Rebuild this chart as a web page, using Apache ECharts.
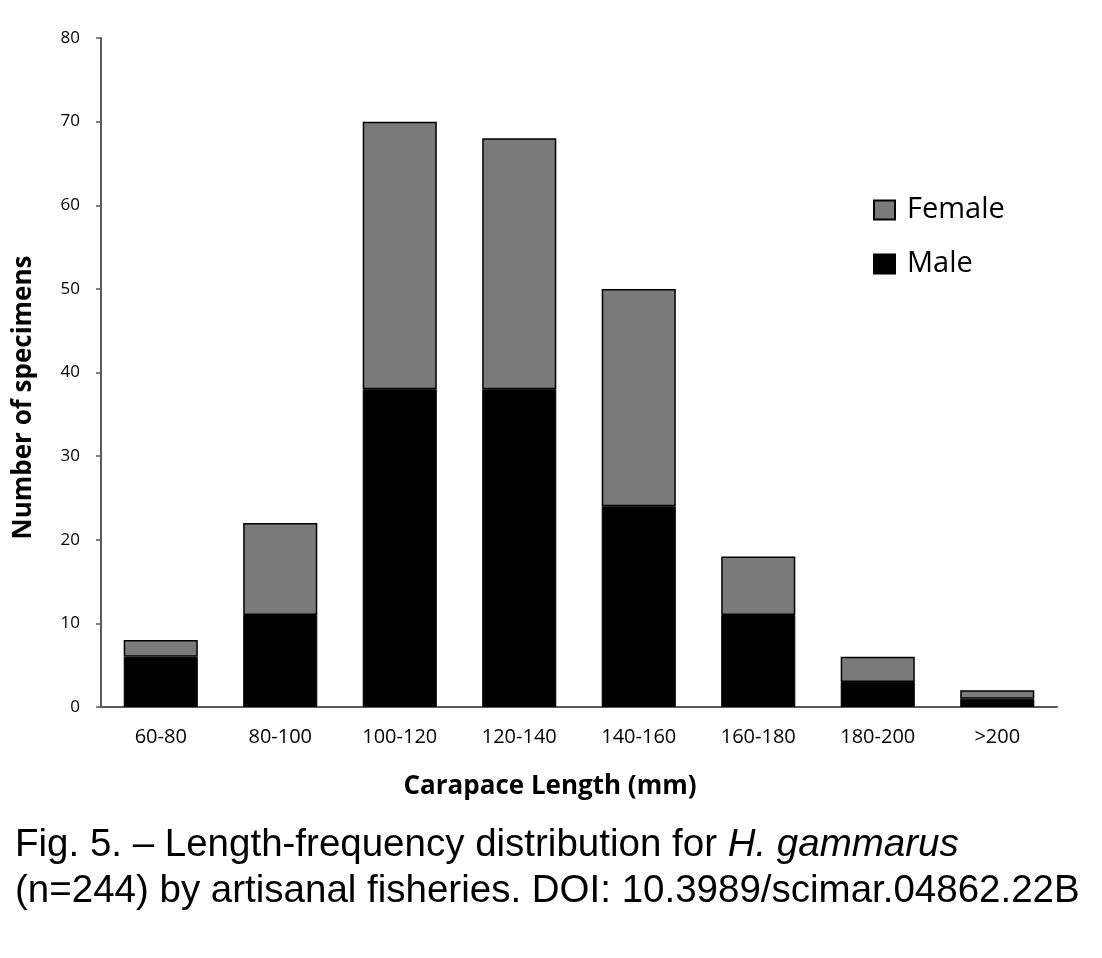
<!DOCTYPE html>
<html lang="en">
<head>
  <meta charset="utf-8">
  <title>Length-frequency distribution</title>
  <script src="https://cdn.jsdelivr.net/npm/echarts@6/dist/echarts.min.js"></script>
  <style>
      html, body, #chart {
          width: 100%; height: 100%; margin: 0; padding: 0; overflow: hidden; background: #fff;
      }
  </style>
</head>
<body>
  <div id="chart"></div>
  <script>
    // carapace length classes (mm)
    var categories = ['60-80', '80-100', '100-120', '120-140', '140-160', '160-180', '180-200', '>200'];
    // counts per class, male at the bottom, female stacked on top
    var maleCounts = [6, 11, 38, 38, 24, 11, 3, 1];
    var femaleCounts = [2, 11, 32, 30, 26, 7, 3, 1];
    var yTicks = { min: 0, max: 80, interval: 10 };

    var labelFont = '"Open Sans", Lato, sans-serif';
    var chart = echarts.init(document.getElementById('chart'));

    var option = {
        animation: false,
        backgroundColor: '#fff',
        title: {
            left: 10,
            top: 817,
            text: 'Fig. 5. – Length-frequency distribution for {i|H. gammarus}\n(n=244) by artisanal fisheries. DOI: 10.3989/scimar.04862.22B',
            textStyle: {
                fontFamily: '"Liberation Sans", Arial, sans-serif',
                fontWeight: 'normal',
                fontSize: 38.5,
                lineHeight: 46,
                color: '#000',
                rich: {
                    i: {
                        fontFamily: '"Liberation Sans", Arial, sans-serif',
                        fontStyle: 'italic',
                        fontSize: 38.5,
                        lineHeight: 46,
                        color: '#000'
                    }
                }
            }
        },
        legend: {
            orient: 'vertical',
            left: 868,
            top: 190,
            itemWidth: 21,
            itemHeight: 19,
            itemGap: 24,
            icon: 'rect',
            data: ['Female', 'Male'],
            textStyle: { fontFamily: labelFont, fontSize: 29, lineHeight: 30, color: '#000', padding: [0, 0, 0, 7] }
        },
        grid: { left: 101, right: 45, top: 38, bottom: 251 },
        xAxis: {
            type: 'category',
            data: categories,
            name: 'Carapace Length (mm)',
            nameLocation: 'middle',
            nameGap: 67,
            nameTextStyle: { fontFamily: labelFont, fontWeight: 'bold', fontSize: 26, color: '#000', padding: [0, 58, 0, 0] },
            axisLine: { lineStyle: { color: '#5a5a5a', width: 2 } },
            axisTick: { show: false },
            axisLabel: { fontFamily: labelFont, fontSize: 20, color: '#000', margin: 20 }
        },
        yAxis: {
            type: 'value',
            min: yTicks.min,
            max: yTicks.max,
            interval: yTicks.interval,
            name: 'Number of specimens',
            nameLocation: 'middle',
            nameGap: 64,
            nameTextStyle: { fontFamily: labelFont, fontWeight: 'bold', fontSize: 26, color: '#000', padding: [0, 50, 0, 0] },
            axisLine: { show: true, lineStyle: { color: '#5a5a5a', width: 2 } },
            axisTick: { show: true, length: 5, lineStyle: { color: '#5a5a5a', width: 1.5 } },
            splitLine: { show: false },
            axisLabel: { fontFamily: labelFont, fontSize: 17, color: '#000', margin: 21 }
        },
        series: [
            {
                name: 'Male',
                type: 'bar',
                stack: 'sex',
                data: maleCounts,
                barCategoryGap: '38%',
                itemStyle: { color: '#000', borderColor: '#000', borderWidth: 1 }
            },
            {
                name: 'Female',
                type: 'bar',
                stack: 'sex',
                data: femaleCounts,
                barCategoryGap: '38%',
                itemStyle: { color: '#7a7a7a', borderColor: '#000', borderWidth: 1.5 }
            }
        ]
    };
    chart.setOption(option);
  </script>
</body>
</html>
